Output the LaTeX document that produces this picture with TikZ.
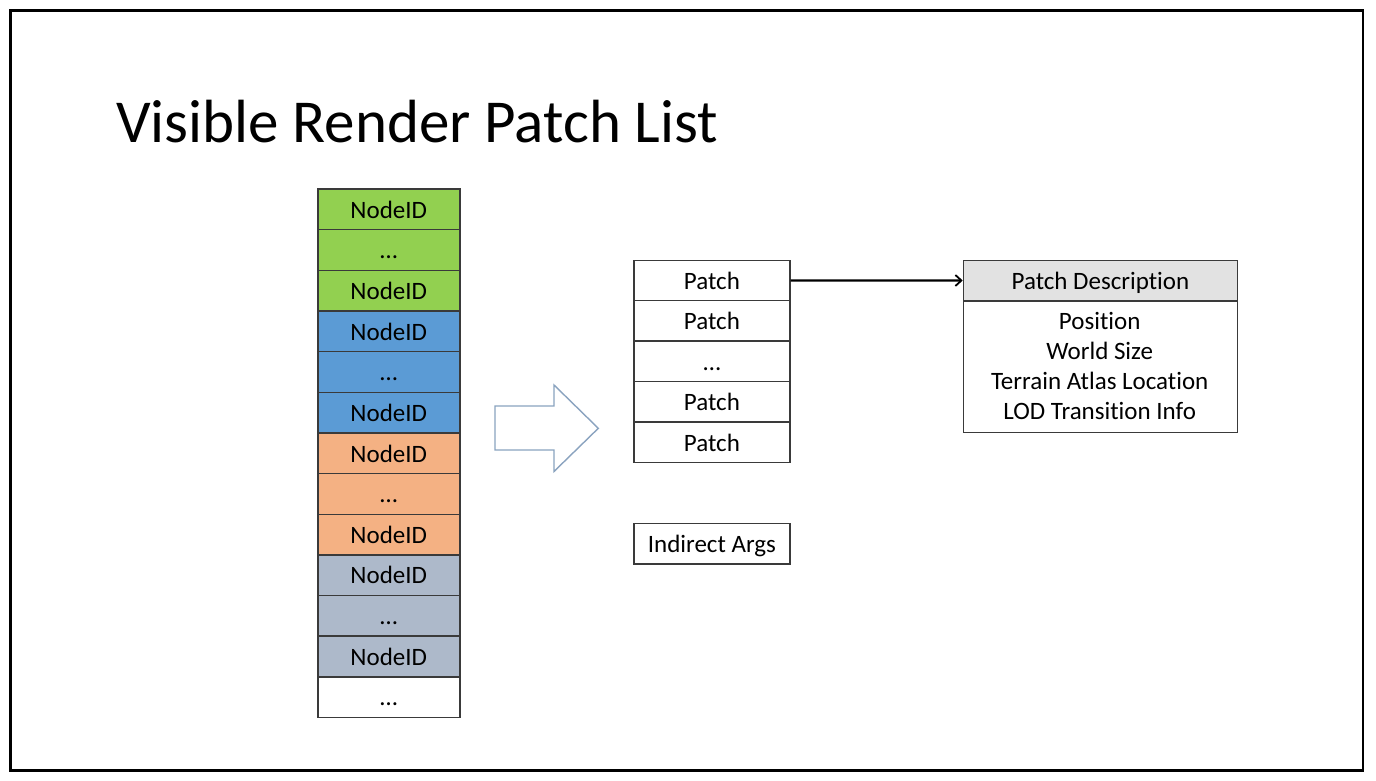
\documentclass[tikz,border=0pt]{standalone}
\usepackage{fontspec}
\setmainfont[Ligatures=NoCommon]{Carlito}
\usetikzlibrary{arrows.meta}
\definecolor{cgreen}{HTML}{92D050}
\definecolor{cblue}{HTML}{5B9BD5}
\definecolor{corange}{HTML}{F4B183}
\definecolor{cgrayblue}{HTML}{ADB9CA}
\definecolor{cborder}{HTML}{3A3A3A}
\definecolor{chead}{HTML}{E2E2E2}
\definecolor{carrow}{HTML}{8AA3BF}
\tikzset{
  cell/.style={draw=cborder, line width=1.5pt, anchor=north west, inner sep=0pt,
    font=\fontsize{25}{29}\selectfont, text height=17.5pt, text depth=0pt},
  nodecell/.style={cell, minimum width=142pt, minimum height=40.65pt},
  patchcell/.style={cell, minimum width=155.7pt, minimum height=40.45pt},
  desctext/.style={anchor=base, inner sep=0pt, font=\fontsize{25}{29}\selectfont},
  link/.style={line width=2.2pt, -{Straight Barb[length=6pt,width=11pt,line width=1.8pt]}},
  hollowarrow/.style={draw=carrow, line width=1.4pt, fill=white, line join=miter}
}
\begin{document}
\begin{tikzpicture}[x=1pt,y=-1pt]
\useasboundingbox (0,0) rectangle (1376,781);
\fill[white] (0,0) rectangle (1376,781);
\draw[line width=2.6pt] (10.5,10.5) rectangle (1363,770.5);
\node[anchor=base west, inner sep=0pt, font=\fontsize{61}{68}\selectfont] (title) at (116,142.3) {Visible Render Patch List};
% left column
\foreach \i/\c/\t in {1/cgreen/NodeID, 2/cgreen/…, 3/cgreen/NodeID,
  4/cblue/NodeID, 5/cblue/…, 6/cblue/NodeID,
  7/corange/NodeID, 8/corange/…, 9/corange/NodeID,
  10/cgrayblue/NodeID, 11/cgrayblue/…, 12/cgrayblue/NodeID, 13/white/…}{
  \node[nodecell, fill=\c] (n\i) at (317, {188.3+(\i-1)*40.65}) {\t};
}
% hollow arrow
\draw[hollowarrow] (495,406) -- (554,406) -- (554,385) -- (598.3,428.3) -- (554,471.5) -- (554,450) -- (495,450) -- cycle;
% patch column
\foreach \i/\t in {1/Patch, 2/Patch, 3/…, 4/Patch, 5/Patch}{
  \node[patchcell, fill=white] (p\i) at (633.3, {259.5+(\i-1)*40.45}) {\t};
}
\node[patchcell, minimum height=40.6pt] (args) at (633.3,522.7) {Indirect Args};
% description
\node[cell, fill=chead, minimum width=274pt, minimum height=40.5pt] (deschead) at (962.7,259.5) {Patch Description};
\node[cell, minimum width=274pt, minimum height=131.7pt] (descbody) at (962.7,300) {};
\node[desctext] (d1) at (1099.7,329) {Position};
\node[desctext] (d2) at (1099.7,359) {World Size};
\node[desctext] (d3) at (1099.7,389) {Terrain Atlas Location};
\node[desctext] (d4) at (1099.7,419) {LOD Transition Info};
\draw[link] (p1.east) -- (deschead.west);
\end{tikzpicture}
\end{document}
